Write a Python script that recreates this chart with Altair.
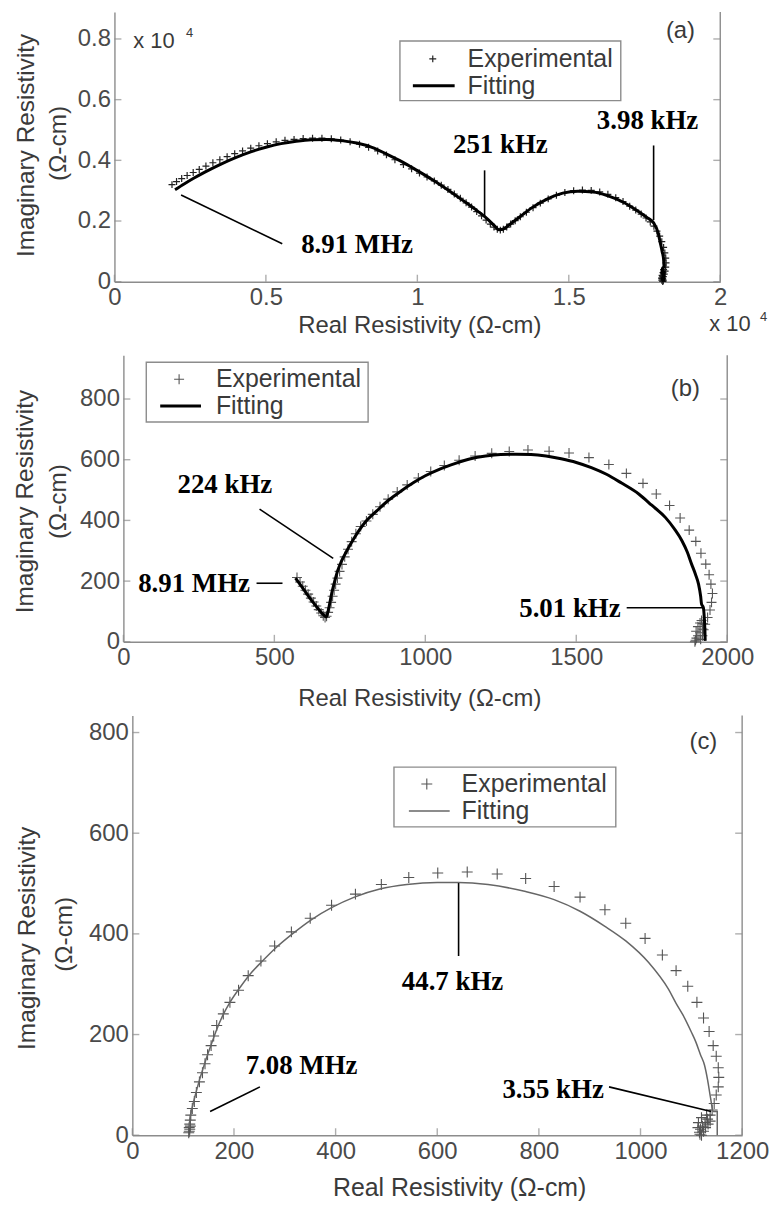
import altair as alt
import pandas as pd

# ---------------- panel (a): values in units of 10^4 ohm-cm ----------------
a_exp_x = [0.190, 0.205, 0.222, 0.240, 0.260, 0.280, 0.302, 0.325, 0.348, 0.372, 0.397, 0.423,
           0.450, 0.477, 0.505, 0.534, 0.563, 0.593, 0.623, 0.654, 0.685, 0.716, 0.747, 0.778,
           0.809, 0.839, 0.869, 0.898, 0.926, 0.954, 0.981, 1.007, 1.032, 1.056, 1.079, 1.101,
           1.122, 1.142, 1.161, 1.179, 1.196, 1.212, 1.227, 1.241, 1.253, 1.264, 1.274, 1.284,
           1.295, 1.308, 1.323, 1.340, 1.360, 1.382, 1.406, 1.432, 1.459, 1.487, 1.516, 1.545,
           1.574, 1.602, 1.629, 1.655, 1.679, 1.701, 1.721, 1.739, 1.755, 1.769, 1.781, 1.791,
           1.800, 1.807, 1.813, 1.817, 1.820, 1.821, 1.820, 1.818, 1.815, 1.812, 1.809, 1.807,
           1.806, 1.808, 1.811, 1.813, 1.812, 1.810, 1.809, 1.811]
a_exp_y = [0.320, 0.330, 0.340, 0.350, 0.360, 0.370, 0.381, 0.392, 0.402, 0.412, 0.422, 0.431,
           0.440, 0.448, 0.455, 0.461, 0.466, 0.469, 0.472, 0.473, 0.473, 0.471, 0.467, 0.461,
           0.453, 0.443, 0.431, 0.418, 0.402, 0.386, 0.372, 0.358, 0.345, 0.332, 0.318, 0.304,
           0.289, 0.275, 0.260, 0.246, 0.231, 0.217, 0.203, 0.190, 0.180, 0.173, 0.170, 0.173,
           0.180, 0.190, 0.201, 0.214, 0.229, 0.244, 0.259, 0.273, 0.285, 0.294, 0.300, 0.302,
           0.301, 0.296, 0.288, 0.277, 0.264, 0.249, 0.236, 0.223, 0.210, 0.197, 0.183, 0.167,
           0.150, 0.132, 0.113, 0.095, 0.078, 0.062, 0.048, 0.035, 0.025, 0.017, 0.010, 0.005,
           0.012, 0.021, 0.030, 0.040, 0.003, 0.001, 0.016, 0.008]
a_fit_x = [0.200, 0.230, 0.260, 0.300, 0.350, 0.400, 0.450, 0.500, 0.550, 0.600, 0.650, 0.700,
           0.750, 0.800, 0.850, 0.900, 0.950, 1.000, 1.050, 1.100, 1.150, 1.200, 1.230, 1.255,
           1.270, 1.285, 1.300, 1.340, 1.380, 1.430, 1.480, 1.530, 1.580, 1.630, 1.680, 1.720,
           1.760, 1.780, 1.795, 1.802, 1.808, 1.813, 1.815, 1.814, 1.810, 1.806, 1.809, 1.813, 1.814]
a_fit_y = [0.303, 0.322, 0.340, 0.362, 0.387, 0.409, 0.428, 0.443, 0.455, 0.463, 0.468, 0.469,
           0.465, 0.457, 0.443, 0.420, 0.395, 0.366, 0.336, 0.303, 0.268, 0.232, 0.208, 0.184,
           0.171, 0.174, 0.185, 0.215, 0.245, 0.273, 0.292, 0.298, 0.296, 0.283, 0.262, 0.238,
           0.210, 0.194, 0.160, 0.128, 0.100, 0.073, 0.040, 0.008, 0.004, 0.020, 0.045, 0.020, 0.000]
a_x_ticks = [0, 0.5, 1, 1.5, 2]
a_y_ticks = [0, 0.2, 0.4, 0.6, 0.8]
a_freqs = ["8.91 MHz", "251 kHz", "3.98 kHz"]

# ---------------- panel (b) ----------------
b_exp_x = [575, 585, 594, 603, 612, 621, 630, 639, 647, 655, 662, 668, 673, 678, 683, 688, 693,
           698, 703, 709, 716, 724, 733, 744, 756, 770, 786, 805, 826, 850, 877, 907, 940, 977,
           1018, 1063, 1112, 1165, 1220, 1278, 1340, 1410, 1476, 1542, 1608, 1666, 1721, 1765,
           1809, 1844, 1874, 1896, 1913, 1929, 1940, 1946, 1951, 1948, 1943, 1935, 1927, 1918,
           1910, 1903, 1898, 1895, 1893, 1897, 1903, 1910, 1915, 1920, 1922, 1918, 1912]
b_exp_y = [212, 197, 183, 170, 157, 144, 131, 118, 106, 95, 86, 80, 84, 97, 112, 130, 150,
           170, 190, 210, 232, 255, 280, 305, 330, 356, 380, 398, 420, 445, 470, 494, 517, 540,
           561, 581, 598, 612, 621, 627, 632, 628, 622, 607, 584, 555, 522, 487,
           449, 408, 368, 331, 292, 256, 221, 190, 159, 130, 105, 80, 58, 42,
           30, 20, 12, 5, 0, 35, 50, 62, 70, 60, 40, 20, 8]
b_fit_x = [570, 590, 610, 630, 650, 665, 672, 680, 690, 700, 710, 722, 740, 762, 800, 840, 880,
           920, 960, 1000, 1050, 1100, 1150, 1200, 1250, 1300, 1350, 1400, 1450, 1500, 1550,
           1600, 1650, 1707, 1750, 1795, 1825, 1850, 1868, 1882, 1895, 1905, 1912, 1915, 1921,
           1924, 1926, 1927]
b_fit_y = [210, 183, 155, 128, 103, 87, 82, 110, 160, 200, 235, 265, 300, 338, 393, 432, 468,
           497, 524, 547, 570, 588, 603, 612, 617, 618, 617, 612, 603, 591, 574,
           552, 523, 487, 450, 410, 372, 333, 295, 256, 222, 190, 150, 124, 113, 80, 40, 3]
b_x_ticks = [0, 500, 1000, 1500, 2000]
b_y_ticks = [0, 200, 400, 600, 800]
b_freqs = ["224 kHz", "8.91 MHz", "5.01 kHz"]

# ---------------- panel (c) ----------------
c_exp_x = [111, 112, 112, 113, 113, 114, 114, 115, 118, 122, 126, 132, 138, 143, 148, 155, 160,
           166, 179, 192, 209, 228, 253, 280, 313, 350, 392, 439, 490, 544, 601, 659, 718, 774,
           830, 881, 930, 971, 1009, 1043, 1070, 1093, 1111, 1124, 1135, 1143, 1149, 1153, 1154,
           1153, 1149, 1145, 1141, 1137, 1132, 1127, 1122, 1118, 1116, 1117, 1120, 1124, 1128,
           1133, 1137, 1130, 1120, 1114, 1113]
c_exp_y = [5, 8, 15, 12, 22, 18, 30, 40, 53, 67, 85, 106, 124, 142, 160, 178, 197,
           218, 241, 264, 288, 317, 346, 376, 404, 431, 457, 479, 498, 512, 521, 523, 519, 510,
           494, 473, 448, 421, 391, 358, 327, 296, 264, 233, 206, 178, 157, 134, 115,
           96, 80, 63, 50, 40, 32, 25, 18, 12, 6, 2, 0, 8, 15,
           22, 28, 40, 35, 25, 15]
c_fit_x = [112, 113, 115, 119, 124, 131, 139, 148, 157, 166, 178, 192, 210, 230, 255, 282, 315,
           352, 392, 437, 487, 540, 600, 642, 700, 774, 830, 881, 930, 971, 1016, 1055, 1070,
           1084, 1100, 1109, 1118, 1126, 1132, 1138, 1143, 1151, 1151]
c_fit_y = [15, 30, 42, 60, 80, 106, 132, 160, 185, 210, 238, 264, 291, 318, 345, 372, 400,
           428, 452, 473, 489, 498, 502, 502, 498, 484, 468, 445, 415, 386, 343, 290, 262,
           238, 205, 185, 160, 139, 110, 73, 47, 47, 0]
c_x_ticks = [0, 200, 400, 600, 800, 1000, 1200]
c_y_ticks = [0, 200, 400, 600, 800]
c_freqs = ["44.7 kHz", "7.08 MHz", "3.55 kHz"]

x_title = "Real Resistivity (Ω-cm)"
y_title = ["Imaginary Resistivity", "(Ω-cm)"]
legend_labels = ["Experimental", "Fitting"]
panel_tags = ["(a)", "(b)", "(c)"]

# ---------------- styling ----------------
SANS = "Liberation Sans"
SERIF = "Liberation Serif"
AX = "#8c8c8c"
LAB = "#4a4a4a"
TXT = "#3a3a3a"
PLUS = "M-1,0H1M0,-1V1"
W = 631


def one():
    return pd.DataFrame({"k": [0]})


def txt(text, x, y, size, **kw):
    props = dict(text=text, font=SANS, fontSize=size, color=TXT, align="center", baseline="middle")
    props.update(kw)
    return alt.Chart(one()).mark_text(**props).encode(x=alt.value(x), y=alt.value(y))


def panel(exp_x, exp_y, fit_x, fit_y, xt, yt, freqs, tag, g):
    xd0, xd1 = g["xdom"]
    yd0, yd1 = g["ydom"]
    xs = alt.Scale(domain=g["xdom"], range=g["xrange"], nice=False, zero=False)
    ys = alt.Scale(domain=g["ydom"], nice=False, zero=False)
    common = dict(ticks=False, grid=False, domainColor=AX, domainWidth=1.4, labelFont=SANS,
                  labelFontSize=24, labelColor=LAB, labelFlush=False, labelOverlap=False,
                  title=None)
    xaxis = alt.Axis(values=xt, labelPadding=4, format=g["xfmt"], **common)
    yaxis = alt.Axis(values=yt, labelPadding=4, format=g["yfmt"], offset=-g["xrange"][0], **common)

    layers = []
    exp = alt.Chart(pd.DataFrame({"x": exp_x, "y": exp_y})).mark_point(
        shape=PLUS, filled=False, size=g["msize"], color=g["mcolor"], strokeWidth=g["mwidth"], opacity=1
    ).encode(x=alt.X("x:Q", scale=xs, axis=xaxis), y=alt.Y("y:Q", scale=ys, axis=yaxis))
    layers.append(exp)
    fit = alt.Chart(pd.DataFrame({"x": fit_x, "y": fit_y, "i": list(range(len(fit_x)))})).mark_line(
        color=g["lcolor"], strokeWidth=g["lwidth"], interpolate="monotone"
    ).encode(x="x:Q", y="y:Q", order="i:Q")
    layers.append(fit)

    # frame (right side) and inward ticks
    layers.append(alt.Chart(one()).mark_rule(color=AX, strokeWidth=1.4).encode(
        x=alt.datum(xd1), y=alt.datum(yd0), y2=alt.datum(yd1)))
    layers.append(alt.Chart(pd.DataFrame({"x": xt, "y": [yd0] * len(xt)})).mark_tick(
        orient="vertical", size=7, thickness=1.4, color=AX, yOffset=-3.5).encode(x="x:Q", y="y:Q"))
    layers.append(alt.Chart(pd.DataFrame({"x": [xd0] * len(yt), "y": yt})).mark_tick(
        orient="horizontal", size=7, thickness=1.4, color=AX, xOffset=3.5).encode(x="x:Q", y="y:Q"))
    layers.append(alt.Chart(pd.DataFrame({"x": [xd1] * len(yt), "y": yt})).mark_tick(
        orient="horizontal", size=7, thickness=1.4, color=AX, xOffset=-3.5).encode(x="x:Q", y="y:Q"))

    # frequency annotations
    layers.append(alt.Chart(pd.DataFrame(g["leads"], columns=["x", "y", "x2", "y2"])).mark_rule(
        color="black", strokeWidth=1.6).encode(x="x:Q", y="y:Q", x2="x2:Q", y2="y2:Q"))
    layers.append(alt.Chart(pd.DataFrame({"t": freqs, "x": g["note_x"], "y": g["note_y"]})).mark_text(
        font=SERIF, fontWeight="bold", fontSize=27, color="black", align="center", baseline="middle"
    ).encode(x="x:Q", y="y:Q", text="t:N"))

    # legend
    L = g["legend"]
    layers.append(alt.Chart(one()).mark_rect(fill="white", stroke=AX, strokeWidth=1.4).encode(
        x=alt.value(L[0]), x2=alt.value(L[1]), y=alt.value(L[2]), y2=alt.value(L[3])))
    layers.append(alt.Chart(one()).mark_point(
        shape=PLUS, filled=False, size=g["msize"], color=g["mcolor"], strokeWidth=g["mwidth"], opacity=1
    ).encode(x=alt.value(L[4]), y=alt.value(L[5])))
    layers.append(alt.Chart(one()).mark_rule(color=g["lcolor"], strokeWidth=g["lwidth"]).encode(
        x=alt.value(L[6]), x2=alt.value(L[7]), y=alt.value(L[8])))
    layers.append(txt(legend_labels[0], L[9], L[5], 25, align="left"))
    layers.append(txt(legend_labels[1], L[9], L[8], 25, align="left"))

    # titles and panel tag
    layers.append(txt(y_title[0], g["yt1"][0], g["yt1"][1], 24.5, angle=270))
    layers.append(txt(y_title[1], g["yt2"][0], g["yt2"][1], 24.5, angle=270))
    layers.append(txt(x_title, g["xt"][0], g["xt"][1], g["xt_fs"]))
    layers.append(txt(tag, g["tag"][0], g["tag"][1], 24))
    for item in g.get("extra", []):
        layers.append(txt(item[0], item[1], item[2], item[3], align="left"))

    return alt.layer(*layers).properties(width=W, height=g["height"])


ga = dict(
    xdom=[0, 2], ydom=[0, 0.8885], xrange=[0, 609], height=271, xfmt="~g", yfmt="~g",
    msize=49, mcolor="#222222", mwidth=1.2, lcolor="black", lwidth=3,
    leads=[[0.220, 0.286, 0.554, 0.125], [1.222, 0.367, 1.222, 0.216], [1.780, 0.449, 1.780, 0.203]],
    note_x=[0.801, 1.274, 1.760], note_y=[0.121, 0.449, 0.528],
    legend=[287, 509, 29, 89, 320, 47, 300, 342, 74, 355],
    yt1=(-88, 134), yt2=(-56, 132), xt=(307, 316), xt_fs=24, tag=(569, 19),
    extra=[("x 10", 19, 29, 22), ("4", 72, 21, 13), ("x 10", 598, 314, 22), ("4", 649, 306, 13)],
)
gb = dict(
    xdom=[0, 2000], ydom=[0, 944], xrange=[9, 616], height=288, xfmt="d", yfmt="d",
    msize=100, mcolor="#555555", mwidth=1.1, lcolor="black", lwidth=3,
    leads=[[451, 437, 695, 275], [441, 193, 527, 193], [1667, 112, 1921, 112]],
    note_x=[336, 234, 1479], note_y=[515, 190, 108],
    legend=[32, 255, 7, 67, 65, 24, 46, 87, 51, 102],
    yt1=(-89, 147), yt2=(-56, 147), xt=(307, 346), xt_fs=24, tag=(574, 34),
)
gc = dict(
    xdom=[0, 1200], ydom=[0, 834], xrange=[18, 631], height=422, xfmt="d", yfmt="d",
    msize=121, mcolor="#555555", mwidth=1.1, lcolor="#666666", lwidth=1.5,
    leads=[[642, 501, 642, 356], [251, 96, 153, 47], [938, 96, 1139, 47]],
    note_x=[630, 333, 828], note_y=[304, 138, 89],
    legend=[281, 504, 52, 112, 314, 69, 296, 337, 96, 349],
    yt1=(-87, 224), yt2=(-50, 220), xt=(347, 475), xt_fs=25, tag=(592, 27),
)

pa = panel(a_exp_x, a_exp_y, a_fit_x, a_fit_y, a_x_ticks, a_y_ticks, a_freqs, panel_tags[0], ga)
pb = panel(b_exp_x, b_exp_y, b_fit_x, b_fit_y, b_x_ticks, b_y_ticks, b_freqs, panel_tags[1], gb)
pc = panel(c_exp_x, c_exp_y, c_fit_x, c_fit_y, c_x_ticks, c_y_ticks, c_freqs, panel_tags[2], gc)

chart = alt.vconcat(pa, pb, pc, spacing=74, bounds="flush").properties(
    padding={"left": 5, "top": 0, "right": 0, "bottom": 0}
).configure_view(stroke=None)

chart.save("out.html", embed_options={"renderer": "svg", "actions": False})
